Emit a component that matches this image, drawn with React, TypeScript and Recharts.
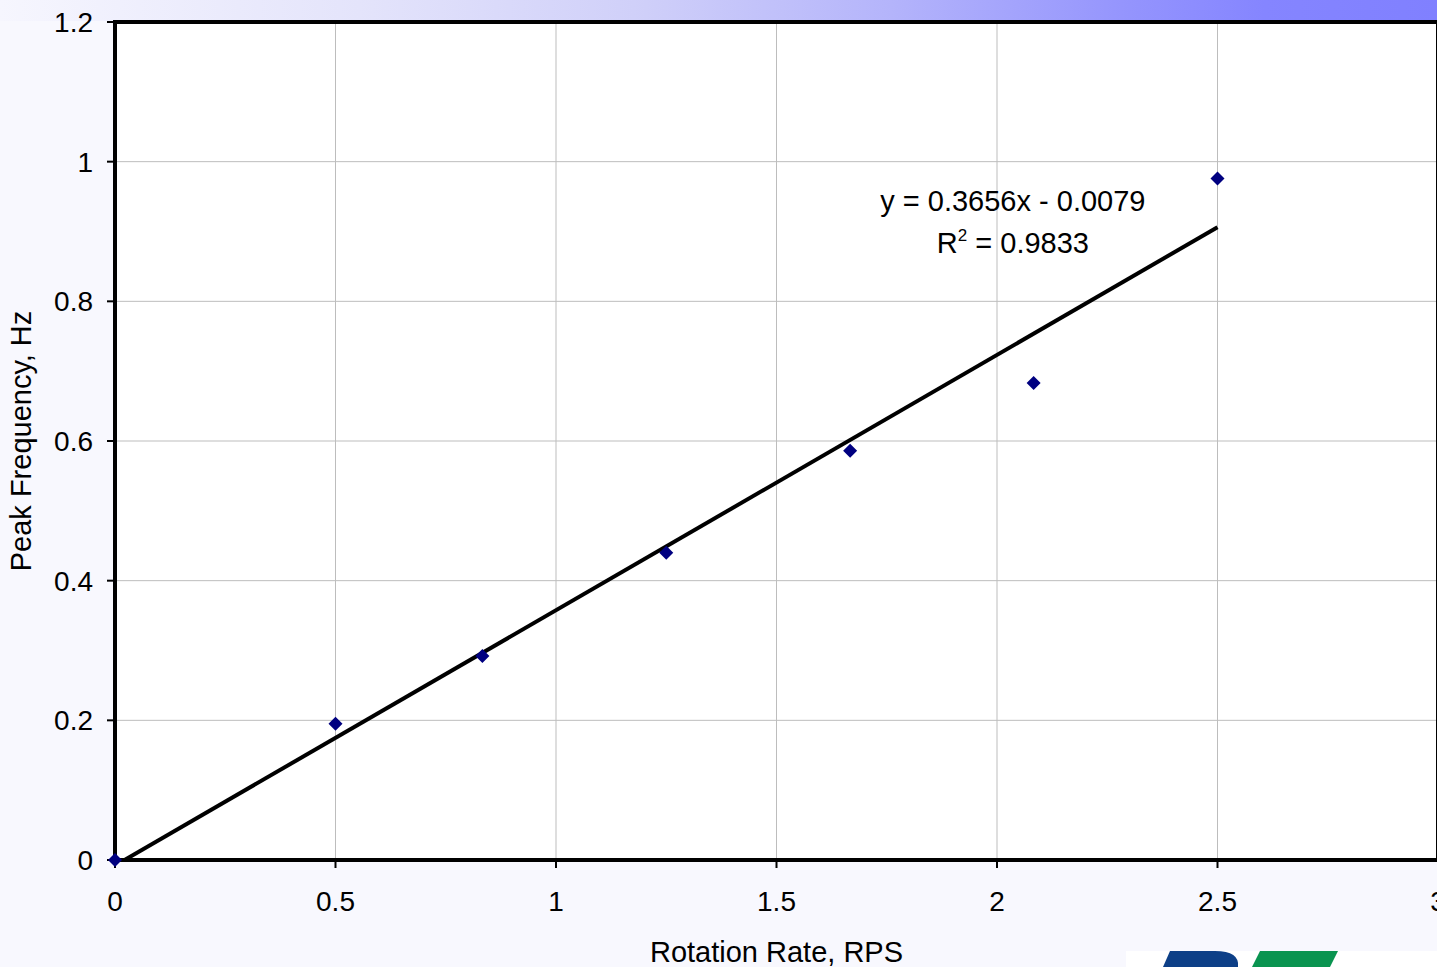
import React from 'react';
import { ScatterChart, Scatter, XAxis, YAxis, CartesianGrid, ReferenceLine, ReferenceDot, ReferenceArea } from 'recharts';

const rotationRate = [0, 0.5, 0.833, 1.25, 1.667, 2.083, 2.5];
const peakFrequency = [0, 0.195, 0.292, 0.44, 0.586, 0.683, 0.976];
const xTicks = [0, 0.5, 1, 1.5, 2, 2.5, 3];
const yTicks = [0, 0.2, 0.4, 0.6, 0.8, 1, 1.2];
const trendSlope = 0.3656;
const trendIntercept = -0.0079;
const trendRange = [0, 2.5];
const equationText = 'y = 0.3656x - 0.0079';
const r2Text = '0.9833';
const equationAnchor = { x: 2.036, y: 0.929 };
const xTitle = 'Rotation Rate, RPS';
const yTitle = 'Peak Frequency, Hz';

const data = rotationRate.map((x, i) => ({ x, y: peakFrequency[i] }));
const trendSegment = trendRange.map((x) => ({ x, y: trendSlope * x + trendIntercept }));

const FONT = '"Liberation Sans", Arial, Helvetica, sans-serif';
const TICK_FS = 28;
const TITLE_FS = 29;

const Diamond = (props: any) => {
  const { cx, cy } = props;
  const s = 7;
  return (
    <polygon
      points={`${cx},${cy - s} ${cx + s},${cy} ${cx},${cy + s} ${cx - s},${cy}`}
      fill="#000080"
    />
  );
};

const XTitle = (props: any) => {
  const vb = props.viewBox;
  return (
    <text x={vb.x + vb.width / 2} y={vb.y + vb.height + 42} textAnchor="middle" fontFamily={FONT} fontSize={TITLE_FS} fill="#000">
      {xTitle}
    </text>
  );
};

const YTitle = (props: any) => {
  const vb = props.viewBox;
  const x = vb.x + 31;
  const y = vb.y + vb.height / 2;
  return (
    <text x={x} y={y} transform={`rotate(-90 ${x} ${y})`} textAnchor="middle" fontFamily={FONT} fontSize={TITLE_FS} fill="#000">
      {yTitle}
    </text>
  );
};

const EquationLabel = (props: any) => {
  const vb = props.viewBox;
  const x = vb.x + (vb.width || 0) / 2;
  const y = vb.y + (vb.height || 0) / 2;
  return (
    <g fontFamily={FONT} fill="#000">
      <text x={x} y={y} textAnchor="middle" fontSize={TITLE_FS}>{equationText}</text>
      <text x={x} y={y + 42} textAnchor="middle" fontSize={TITLE_FS}>
        <tspan>R</tspan>
        <tspan dy={-12} fontSize={17}>2</tspan>
        <tspan dy={12}>{` = ${r2Text}`}</tspan>
      </text>
    </g>
  );
};

export default function App() {
  return (
    <div
      style={{
        position: 'absolute',
        left: 0,
        top: 0,
        width: 1437,
        height: 967,
        overflow: 'hidden',
        background: '#f8f8fe',
      }}
    >
      <div
        style={{
          position: 'absolute',
          left: 0,
          top: 0,
          width: 1437,
          height: 21,
          background:
            'linear-gradient(to right, #f6f6fe 0%, #e4e4fb 25%, #cfcff9 45%, #b4b4fb 62%, #9595fd 78%, #8585ff 88%, #8080ff 100%)',
        }}
      />
      <svg style={{ position: 'absolute', left: 0, top: 0 }} width={1437} height={967}>
        <rect x={1126} y={951} width={311} height={16} fill="#ffffff" />
        <path d="M1163,967 L1170,951 L1215,951 Q1240,951 1238,967 Z" fill="#0d3f87" />
        <polygon points="1260,951 1338,951 1330,967 1252,967" fill="#0a9450" />
      </svg>
      <div style={{ position: 'absolute', left: 0, top: 0 }}>
        <ScatterChart width={1440} height={967} margin={{ top: 22, right: 2, bottom: 47, left: 0 }}>
          <CartesianGrid stroke="#bdbdbd" strokeWidth={1} fill="#ffffff" />
          <XAxis
            dataKey="x"
            type="number"
            domain={[0, 3]}
            ticks={xTicks}
            interval={0}
            height={60}
            tickSize={8}
            tickMargin={23}
            axisLine={false}
            tickLine={{ stroke: '#000', strokeWidth: 2 }}
            tick={{ fill: '#000', fontSize: TICK_FS, fontFamily: FONT }}
            label={<XTitle />}
          />
          <YAxis
            dataKey="y"
            type="number"
            domain={[0, 1.2]}
            ticks={yTicks}
            interval={0}
            width={115}
            tickSize={8}
            tickMargin={14}
            axisLine={false}
            tickLine={{ stroke: '#000', strokeWidth: 2 }}
            tick={{ fill: '#000', fontSize: TICK_FS, fontFamily: FONT }}
            label={<YTitle />}
          />
          <ReferenceArea
            x1={0}
            x2={3}
            y1={0}
            y2={1.2}
            fill="none"
            fillOpacity={0}
            stroke="#000"
            strokeWidth={4}
            strokeOpacity={1}
            ifOverflow="visible"
          />
          <ReferenceLine
            segment={trendSegment}
            stroke="#000"
            strokeWidth={4}
            ifOverflow="hidden"
          />
          <Scatter data={data} shape={<Diamond />} isAnimationActive={false} />
          <ReferenceDot
            x={equationAnchor.x}
            y={equationAnchor.y}
            r={0}
            fill="none"
            stroke="none"
            label={<EquationLabel />}
          />
        </ScatterChart>
      </div>
    </div>
  );
}
